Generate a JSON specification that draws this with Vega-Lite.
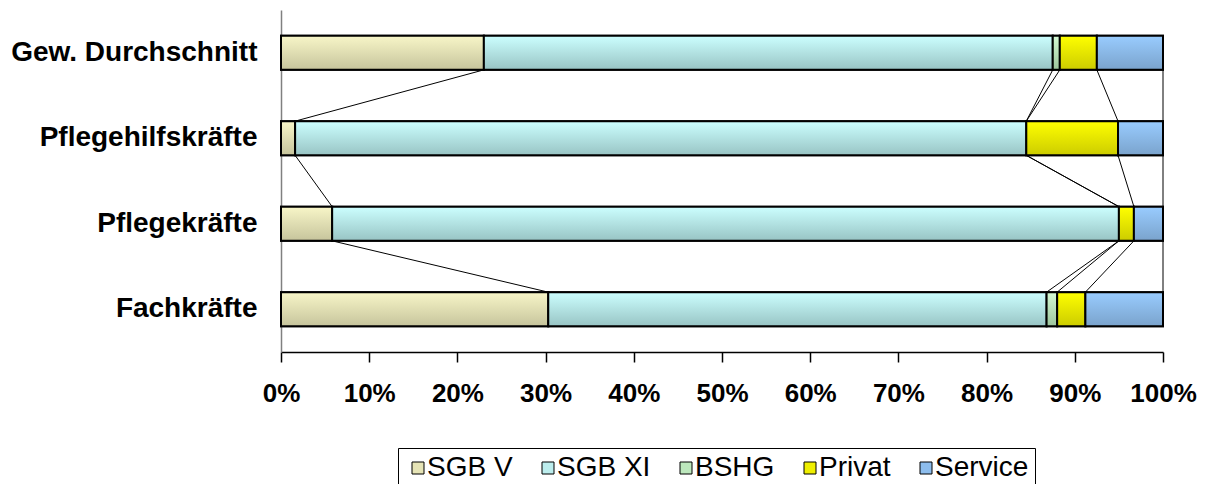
{
  "$schema": "https://vega.github.io/schema/vega-lite/v6.json",
  "width": 882,
  "height": 342,
  "autosize": {"type": "none"},
  "padding": {"left": 281, "top": 10, "right": 46, "bottom": 132},
  "background": "#ffffff",
  "config": {
    "view": {"stroke": null},
    "font": "Liberation Sans",
    "legend": {
      "orient": "none",
      "legendX": 117,
      "legendY": 438,
      "direction": "horizontal",
      "symbolType": "square",
      "symbolSize": 144,
      "symbolStrokeColor": "#000000",
      "symbolStrokeWidth": 1,
      "symbolOpacity": 1,
      "labelFont": "Liberation Sans",
      "labelFontSize": 28,
      "labelColor": "#000000",
      "labelOffset": -5,
      "columnPadding": 21,
      "padding": 6,
      "strokeColor": "#000000",
      "fillColor": "#ffffff"
    }
  },
  "datasets": {
    "bars": [
      {"cat": "Gew. Durchschnitt", "series": "SGB V", "order": 1, "value": 23.0},
      {"cat": "Gew. Durchschnitt", "series": "SGB XI", "order": 2, "value": 64.5},
      {"cat": "Gew. Durchschnitt", "series": "BSHG", "order": 3, "value": 0.8},
      {"cat": "Gew. Durchschnitt", "series": "Privat", "order": 4, "value": 4.2},
      {"cat": "Gew. Durchschnitt", "series": "Service", "order": 5, "value": 7.5},
      {"cat": "Pflegehilfskräfte", "series": "SGB V", "order": 1, "value": 1.6},
      {"cat": "Pflegehilfskräfte", "series": "SGB XI", "order": 2, "value": 82.9},
      {"cat": "Pflegehilfskräfte", "series": "Privat", "order": 4, "value": 10.4},
      {"cat": "Pflegehilfskräfte", "series": "Service", "order": 5, "value": 5.1},
      {"cat": "Pflegekräfte", "series": "SGB V", "order": 1, "value": 5.8},
      {"cat": "Pflegekräfte", "series": "SGB XI", "order": 2, "value": 89.2},
      {"cat": "Pflegekräfte", "series": "Privat", "order": 4, "value": 1.7},
      {"cat": "Pflegekräfte", "series": "Service", "order": 5, "value": 3.3},
      {"cat": "Fachkräfte", "series": "SGB V", "order": 1, "value": 30.3},
      {"cat": "Fachkräfte", "series": "SGB XI", "order": 2, "value": 56.5},
      {"cat": "Fachkräfte", "series": "BSHG", "order": 3, "value": 1.2},
      {"cat": "Fachkräfte", "series": "Privat", "order": 4, "value": 3.2},
      {"cat": "Fachkräfte", "series": "Service", "order": 5, "value": 8.8}
    ],
    "lines": [
      {"upper": "Gew. Durchschnitt", "lower": "Pflegehilfskräfte", "series": "SGB V", "xu": 23.0, "xl": 1.6},
      {"upper": "Gew. Durchschnitt", "lower": "Pflegehilfskräfte", "series": "SGB XI", "xu": 87.5, "xl": 84.5},
      {"upper": "Gew. Durchschnitt", "lower": "Pflegehilfskräfte", "series": "BSHG", "xu": 88.3, "xl": 84.5},
      {"upper": "Gew. Durchschnitt", "lower": "Pflegehilfskräfte", "series": "Privat", "xu": 92.5, "xl": 94.9},
      {"upper": "Gew. Durchschnitt", "lower": "Pflegehilfskräfte", "series": "Service", "xu": 100, "xl": 100},
      {"upper": "Pflegehilfskräfte", "lower": "Pflegekräfte", "series": "SGB V", "xu": 1.6, "xl": 5.8},
      {"upper": "Pflegehilfskräfte", "lower": "Pflegekräfte", "series": "SGB XI", "xu": 84.5, "xl": 95.0},
      {"upper": "Pflegehilfskräfte", "lower": "Pflegekräfte", "series": "BSHG", "xu": 84.5, "xl": 95.0},
      {"upper": "Pflegehilfskräfte", "lower": "Pflegekräfte", "series": "Privat", "xu": 94.9, "xl": 96.7},
      {"upper": "Pflegehilfskräfte", "lower": "Pflegekräfte", "series": "Service", "xu": 100, "xl": 100},
      {"upper": "Pflegekräfte", "lower": "Fachkräfte", "series": "SGB V", "xu": 5.8, "xl": 30.3},
      {"upper": "Pflegekräfte", "lower": "Fachkräfte", "series": "SGB XI", "xu": 95.0, "xl": 86.8},
      {"upper": "Pflegekräfte", "lower": "Fachkräfte", "series": "BSHG", "xu": 95.0, "xl": 88.0},
      {"upper": "Pflegekräfte", "lower": "Fachkräfte", "series": "Privat", "xu": 96.7, "xl": 91.2},
      {"upper": "Pflegekräfte", "lower": "Fachkräfte", "series": "Service", "xu": 100, "xl": 100}
    ]
  },
  "layer": [
    {
      "data": {"name": "bars"},
      "transform": [
        {"stack": "value", "groupby": ["cat"], "sort": [{"field": "order", "order": "ascending"}], "as": ["x0", "x1"]}
      ],
      "mark": {"type": "bar", "stroke": "#000000", "strokeWidth": 2},
      "encoding": {
        "y": {
          "field": "cat",
          "type": "nominal",
          "scale": {
            "domain": ["Gew. Durchschnitt", "Pflegehilfskräfte", "Pflegekräfte", "Fachkräfte"],
            "paddingInner": 0.6,
            "paddingOuter": 0.3
          },
          "axis": {
            "title": null,
            "ticks": false,
            "domainColor": "#808080",
            "domainWidth": 1.5,
            "labelFont": "Liberation Sans",
            "labelFontSize": 28,
            "labelFontWeight": "bold",
            "labelColor": "#000000",
            "labelPadding": 24,
            "labelLimit": 400
          }
        },
        "x": {
          "field": "x0",
          "type": "quantitative",
          "scale": {"domain": [0, 100], "nice": false},
          "axis": {
            "title": null,
            "grid": false,
            "values": [0, 10, 20, 30, 40, 50, 60, 70, 80, 90, 100],
            "labelExpr": "datum.value + '%'",
            "domainColor": "#000000",
            "domainWidth": 1.5,
            "tickColor": "#000000",
            "tickWidth": 1.5,
            "tickSize": 10,
            "labelFont": "Liberation Sans",
            "labelFontSize": 26,
            "labelFontWeight": "bold",
            "labelColor": "#000000",
            "labelPadding": 18,
            "labelFlush": false,
            "labelOverlap": false
          }
        },
        "x2": {"field": "x1"},
        "color": {
          "field": "series",
          "type": "nominal",
          "scale": {
            "domain": ["SGB V", "SGB XI", "BSHG", "Privat", "Service"],
            "range": ["#E6E4B6", "#BCEDED", "#BDE8BD", "#EEEE00", "#8DBDED"]
          },
          "legend": {"title": null}
        }
      }
    },
    {
      "data": {"name": "bars"},
      "transform": [
        {"stack": "value", "groupby": ["cat"], "sort": [{"field": "order", "order": "ascending"}], "as": ["x0", "x1"]},
        {"filter": "datum.series === 'SGB V'"}
      ],
      "mark": {"type": "bar", "stroke": "#000000", "strokeWidth": 2,
        "fill": {"gradient": "linear", "x1": 0, "y1": 0, "x2": 0, "y2": 1, "stops": [{"offset": 0, "color": "#F8F6C8"}, {"offset": 1, "color": "#C6C49C"}]}},
      "encoding": {
        "y": {"field": "cat", "type": "nominal"},
        "x": {"field": "x0", "type": "quantitative"},
        "x2": {"field": "x1"}
      }
    },
    {
      "data": {"name": "bars"},
      "transform": [
        {"stack": "value", "groupby": ["cat"], "sort": [{"field": "order", "order": "ascending"}], "as": ["x0", "x1"]},
        {"filter": "datum.series === 'SGB XI'"}
      ],
      "mark": {"type": "bar", "stroke": "#000000", "strokeWidth": 2,
        "fill": {"gradient": "linear", "x1": 0, "y1": 0, "x2": 0, "y2": 1, "stops": [{"offset": 0, "color": "#CCFFFF"}, {"offset": 1, "color": "#98C4C4"}]}},
      "encoding": {
        "y": {"field": "cat", "type": "nominal"},
        "x": {"field": "x0", "type": "quantitative"},
        "x2": {"field": "x1"}
      }
    },
    {
      "data": {"name": "bars"},
      "transform": [
        {"stack": "value", "groupby": ["cat"], "sort": [{"field": "order", "order": "ascending"}], "as": ["x0", "x1"]},
        {"filter": "datum.series === 'BSHG'"}
      ],
      "mark": {"type": "bar", "stroke": "#000000", "strokeWidth": 2,
        "fill": {"gradient": "linear", "x1": 0, "y1": 0, "x2": 0, "y2": 1, "stops": [{"offset": 0, "color": "#D4FAD4"}, {"offset": 1, "color": "#9CC49C"}]}},
      "encoding": {
        "y": {"field": "cat", "type": "nominal"},
        "x": {"field": "x0", "type": "quantitative"},
        "x2": {"field": "x1"}
      }
    },
    {
      "data": {"name": "bars"},
      "transform": [
        {"stack": "value", "groupby": ["cat"], "sort": [{"field": "order", "order": "ascending"}], "as": ["x0", "x1"]},
        {"filter": "datum.series === 'Privat'"}
      ],
      "mark": {"type": "bar", "stroke": "#000000", "strokeWidth": 2,
        "fill": {"gradient": "linear", "x1": 0, "y1": 0, "x2": 0, "y2": 1, "stops": [{"offset": 0, "color": "#FFFF00"}, {"offset": 1, "color": "#CCCC00"}]}},
      "encoding": {
        "y": {"field": "cat", "type": "nominal"},
        "x": {"field": "x0", "type": "quantitative"},
        "x2": {"field": "x1"}
      }
    },
    {
      "data": {"name": "bars"},
      "transform": [
        {"stack": "value", "groupby": ["cat"], "sort": [{"field": "order", "order": "ascending"}], "as": ["x0", "x1"]},
        {"filter": "datum.series === 'Service'"}
      ],
      "mark": {"type": "bar", "stroke": "#000000", "strokeWidth": 2,
        "fill": {"gradient": "linear", "x1": 0, "y1": 0, "x2": 0, "y2": 1, "stops": [{"offset": 0, "color": "#99CCFF"}, {"offset": 1, "color": "#7AA3CC"}]}},
      "encoding": {
        "y": {"field": "cat", "type": "nominal"},
        "x": {"field": "x0", "type": "quantitative"},
        "x2": {"field": "x1"}
      }
    },
    {
      "data": {"name": "lines"},
      "mark": {"type": "rule", "color": "#000000", "strokeWidth": 1},
      "encoding": {
        "y": {"field": "upper", "type": "nominal", "bandPosition": 1},
        "y2": {"field": "lower", "bandPosition": 0},
        "x": {"field": "xu", "type": "quantitative"},
        "x2": {"field": "xl"}
      }
    }
  ]
}
